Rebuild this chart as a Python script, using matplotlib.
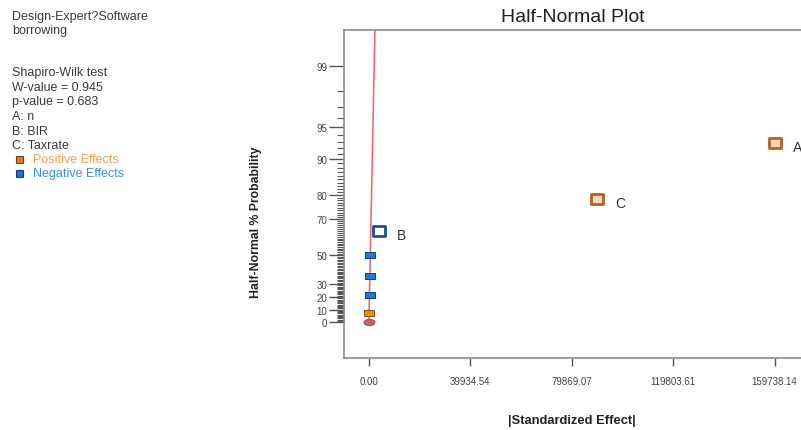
from statistics import NormalDist
import matplotlib
matplotlib.use("Agg")
import matplotlib.pyplot as plt
from matplotlib.path import Path
import numpy as np

plt.rcParams['font.family'] = ['Liberation Sans', 'DejaVu Sans']

# effects sorted by |effect|, half-normal rank probabilities (%)
effect_names = ['', '', '', '', 'B', 'C', 'A']
effect_vals = [150, 420, 380, 450, 3900, 89700, 159900]
effect_sign = ['+', '-', '-', '-', '-', '+', '+']
prob_pct = [7.14, 21.43, 35.71, 50.0, 64.29, 78.57, 92.86]

x_ticks = [0.00, 39934.54, 79869.07, 119803.61, 159738.14]
y_ticks = [0, 10, 20, 30, 50, 70, 80, 90, 95, 99]
line_slope = 805.0   # effect per unit half-normal quantile

ND = NormalDist()
def hn(p):  # percent -> half-normal quantile
    if np.ndim(p) == 0:
        return 0.0 if p <= 0 else ND.inv_cdf(0.5 + p / 200.0)
    return np.array([hn(q) for q in p])

fig = plt.figure(figsize=(8.01, 4.31), dpi=100)
ax = fig.add_axes([344/801, (431-359)/431, (802-344)/801, (359-31)/431])

ax.set_xlim(-9800, 170500)
ax.set_ylim(-0.36, 2.94)

for s in ax.spines.values():
    s.set_color('#8c8c8c')
    s.set_linewidth(1.2)

# fitted line
zz = np.array([0, 2.94])
ax.plot(line_slope * zz, zz, color='#ee6f73', lw=1.2, zorder=2)

# point at origin
t = np.linspace(0, 2*np.pi, 40)
ell = Path(np.column_stack([1.7*np.cos(t), np.sin(t)]), closed=True)
ax.plot([0], [0], marker=ell, ms=8, color='#c5606a', mec='#a04850', mew=0.6, zorder=3)

rect = Path([(-1.3, -1), (1.3, -1), (1.3, 1), (-1.3, 1), (-1.3, -1)], closed=True)
for name, v, sg, p in zip(effect_names, effect_vals, effect_sign, prob_pct):
    z = hn(p)
    if sg == '+':
        fc, ec = '#f08a1c', '#8a4a12'
    else:
        fc, ec = '#1f78e0', '#163c78'
    if name:
        light = '#f4d9bf' if sg == '+' else '#ffffff'
        edge = '#b8601e' if sg == '+' else '#1a4f9a'
        ax.plot([v], [z], marker=rect, ms=8.5, mfc=light, mec=edge, mew=2.0, zorder=4)
        ax.text(v + 7200, z - 0.04, name, fontsize=10, color='#333333', va='center', ha='left')
    else:
        ax.plot([v], [z], marker=rect, ms=6.5, mfc=fc, mec=ec, mew=0.7, zorder=4)

ax.set_xticks(x_ticks)
ax.set_xticklabels(['%.2f' % v for v in x_ticks])
ax.tick_params(axis='x', direction='out', length=6, width=1, color='#555555',
               labelsize=7, labelcolor='#444444', pad=7)

ax.set_yticks(hn(y_ticks))
ax.set_yticklabels([str(v) for v in y_ticks])
minor = [p for p in range(1, 99) if p not in y_ticks] + [96, 97, 98]
ax.set_yticks(hn(sorted(set(minor))), minor=True)
ax.tick_params(axis='y', which='major', direction='out', length=11, width=1,
               color='#555555', labelsize=7, labelcolor='#444444', pad=1)
ax.tick_params(axis='y', which='minor', direction='out', length=5, width=0.8, color='#555555')

fig.text(573/801, 1 - 18/431, 'Half-Normal Plot', ha='center', va='center', fontsize=14, color='#222222')
fig.text(572/801, 1 - 421/431, '|Standardized Effect|', ha='center', va='center',
         fontsize=9.3, fontweight='bold', color='#222222')
fig.text(256/801, 1 - 222/431, 'Half-Normal % Probability', ha='center', va='center',
         rotation=90, fontsize=8.8, fontweight='bold', color='#222222')

# side notes
notes = [(17, 'Design-Expert?Software'), (31, 'borrowing'),
         (73, 'Shapiro-Wilk test'), (88, 'W-value = 0.945'), (102, 'p-value = 0.683'),
         (117, 'A: n'), (132, 'B: BIR'), (146, 'C: Taxrate')]
for yy, s in notes:
    fig.text(12/801, 1 - yy/431, s, ha='left', va='center', fontsize=9, color='#3a3a3a')

fig.text(33/801, 1 - 160/431, 'Positive Effects', ha='left', va='center', fontsize=9, color='#f0a050')
fig.text(33/801, 1 - 174/431, 'Negative Effects', ha='left', va='center', fontsize=9, color='#3d8fe6')
fig.patches.append(plt.Rectangle((16/801, 1 - 164/431), 7/801, 7/431, transform=fig.transFigure,
                                 fc='#e07a1a', ec='#7a3e10', lw=0.8))
fig.patches.append(plt.Rectangle((16/801, 1 - 178/431), 7/801, 7/431, transform=fig.transFigure,
                                 fc='#1f6fd6', ec='#163c78', lw=0.8))

fig.savefig('out.png', dpi=100)
